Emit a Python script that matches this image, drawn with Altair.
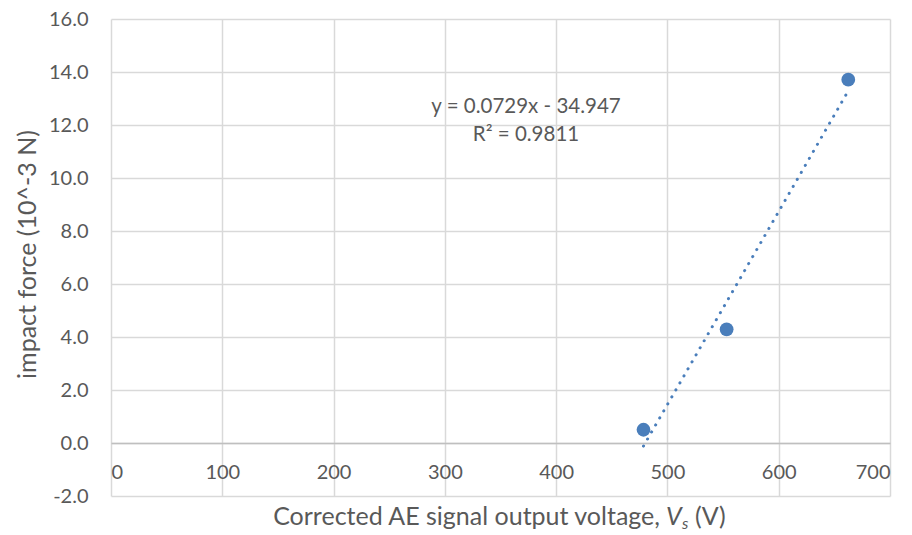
import altair as alt
import pandas as pd

# ---- data ----
voltage = [478.5, 553.2, 662.5]
force = [0.50, 4.29, 13.71]
x_ticks = [0, 100, 200, 300, 400, 500, 600, 700]
y_ticks = [-2, 0, 2, 4, 6, 8, 10, 12, 14, 16]
eq_lines = ["y = 0.0729x - 34.947", "R² = 0.9811"]
y_title = "impact force (10^-3 N)"
x_title_parts = ["Corrected AE signal output voltage,", "V", "s", "(V)"]

BLUE = "#4A7EBB"
TXT = "#595959"
GRID = "#d9d9d9"
FONT = "Lato"

W, H = 779, 477

df = pd.DataFrame({"voltage": voltage, "force": force})

xs = alt.Scale(domain=[0, 700], nice=False, zero=False)
ys = alt.Scale(domain=[-2, 16], nice=False, zero=False)

points = alt.Chart(df).mark_circle(size=190, color=BLUE, opacity=1).encode(
    x=alt.X("voltage:Q", scale=xs, axis=alt.Axis(
        values=x_ticks, title=None, grid=True, gridColor=GRID, gridWidth=1.5,
        domainColor="#bfbfbf", domainWidth=1.5, ticks=False, tickSize=0,
        labelPadding=19, labelFontSize=20, labelColor=TXT, labelFont=FONT,
        offset=-53)),
    y=alt.Y("force:Q", scale=ys, axis=alt.Axis(
        values=y_ticks, title=y_title, grid=True, gridColor=GRID,
        labelExpr="replace(format(datum.value, '.1f'), '\u2212', '-')",
        gridWidth=1.5, domain=False, ticks=False, tickSize=0, labelPadding=23,
        labelFontSize=20, labelColor=TXT, labelFont=FONT,
        titleFont=FONT, titleFontSize=25, titleColor=TXT, titleFontWeight="normal",
        titleBaseline="middle", titleX=-84, titleY=235)),
)

trend = alt.Chart(df).transform_regression("voltage", "force").mark_line(
    color=BLUE, strokeWidth=3, strokeDash=[0.1, 8], strokeCap="round"
).encode(x="voltage:Q", y="force:Q")

eq_df = pd.DataFrame({"t": eq_lines, "row": [0, 1]})
eq1 = alt.Chart(eq_df.iloc[[0]]).mark_text(
    font=FONT, fontSize=20.5, color=TXT, baseline="middle", align="center"
).encode(text="t:N", x=alt.value(415), y=alt.value(88))
eq2 = alt.Chart(eq_df.iloc[[1]]).mark_text(
    font=FONT, fontSize=20.5, color=TXT, baseline="middle", align="center"
).encode(text="t:N", x=alt.value(415), y=alt.value(116))

tdf = pd.DataFrame({"t": x_title_parts, "i": [0, 1, 2, 3]})
TY = 498
t0 = alt.Chart(tdf.iloc[[0]]).mark_text(
    font=FONT, fontSize=25, color=TXT, baseline="middle", align="right"
).encode(text="t:N", x=alt.value(549), y=alt.value(TY))
t1 = alt.Chart(tdf.iloc[[1]]).mark_text(
    font=FONT, fontSize=25, color=TXT, baseline="middle", align="left", fontStyle="italic"
).encode(text="t:N", x=alt.value(555), y=alt.value(TY))
t2 = alt.Chart(tdf.iloc[[2]]).mark_text(
    font=FONT, fontSize=16, color=TXT, baseline="middle", align="left", fontStyle="italic"
).encode(text="t:N", x=alt.value(571), y=alt.value(TY + 7))
t3 = alt.Chart(tdf.iloc[[3]]).mark_text(
    font=FONT, fontSize=25, color=TXT, baseline="middle", align="left"
).encode(text="t:N", x=alt.value(584), y=alt.value(TY))

chart = alt.layer(points, trend, eq1, eq2, t0, t1, t2, t3).properties(
    width=W, height=H,
    padding={"left": 111, "top": 19, "right": 22, "bottom": 39},
    autosize=alt.AutoSizeParams(type="none"),
    background="white",
).configure_view(strokeWidth=0)

chart.save("out.html", embed_options={"renderer": "svg", "actions": False})
